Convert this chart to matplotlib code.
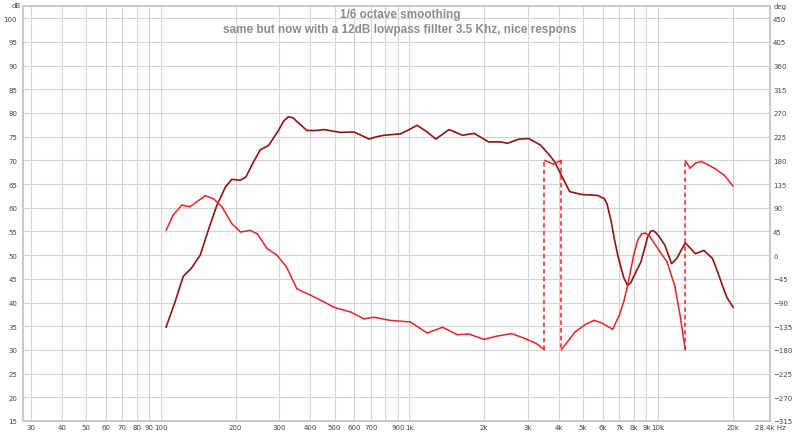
import numpy as np
import matplotlib.pyplot as plt

# Magnitude response (dB)
mag_freq = [105, 114, 123, 133, 144, 156, 168, 182, 193, 209, 220, 235, 251, 272,
            298, 312, 326, 340, 353, 387, 420, 453, 529, 598, 640, 688, 740, 791,
            922, 1000, 1075, 1180, 1278, 1360, 1444, 1540, 1636, 1825, 1950, 2085,
            2335, 2483, 2770, 3030, 3380, 3705, 3845, 4090, 4420, 4940, 5730, 6100,
            6250, 6500, 6680, 6900, 7100, 7300, 7560, 7800, 8000, 8560, 9100, 9350,
            9560, 9800, 10100, 10680, 11360, 11930, 12900, 13500, 14170, 15330,
            16600, 17400, 18200, 19000, 20100]
mag_db = [34.8, 40.1, 45.5, 47.3, 50.0, 55.6, 60.5, 64.4, 66.0, 65.8, 66.5, 69.5,
          72.2, 73.2, 76.4, 78.3, 79.2, 79.0, 78.2, 76.3, 76.3, 76.5, 75.9, 76.0,
          75.3, 74.5, 75.0, 75.3, 75.6, 76.5, 77.4, 76.0, 74.5, 75.5, 76.5, 75.9,
          75.3, 75.7, 74.8, 73.9, 73.9, 73.6, 74.5, 74.6, 73.2, 70.8, 69.7, 66.9,
          63.4, 62.8, 62.6, 61.9, 60.8, 57.0, 53.5, 50.0, 47.5, 45.2, 43.6, 44.2,
          45.5, 48.6, 53.8, 55.0, 55.2, 54.8, 54.0, 52.1, 48.2, 49.3, 52.6, 51.5,
          50.3, 51.0, 49.3, 46.5, 43.6, 41.0, 39.0]

# Phase (deg), wrapped at +/-180
ph_freq = [105, 112, 121.5, 131, 151, 163, 176, 193, 209, 229, 245, 267, 293, 320,
           353, 400, 450, 497, 580, 657, 720, 838, 1010, 1180, 1360, 1560, 1740,
           1995, 2250, 2580, 2940, 3250, 3500, 3500, 3800, 4090, 4090, 4640, 5100,
           5540, 5900, 6580, 7000, 7300, 7560, 8000, 8300, 8600, 8900, 9200, 9990,
           10900, 11700, 12300, 12900, 12900, 13500, 14200, 15000, 16900, 18500,
           20100]
ph_deg = [47, 76, 95, 92, 113, 107, 92, 60, 44, 47, 40, 13, 0, -22, -64, -76, -88,
          -99, -108, -121, -118, -124, -127, -148, -137, -151, -150, -160, -154,
          -149, -159, -168, -180, 180, 173, 180, -180, -146, -132, -124, -128,
          -141, -114, -88, -58, 0, 28, 40, 42, 38, 13, -13, -58, -115, -180, 180,
          165, 175, 178, 165, 152, 131]

xtick_vals = [30, 40, 50, 60, 70, 80, 90, 100, 200, 300, 400, 500, 600, 700, 800,
              900, 1000, 2000, 3000, 4000, 5000, 6000, 7000, 8000, 9000, 10000,
              20000, 28400]
xtick_labels = ["30", "40", "50", "60", "70", "80", "90", "100", "200", "300", "400",
                "500", "600", "700", "", "900", "1k", "2k", "3k", "4k", "5k", "6k",
                "7k", "8k", "9k", "10k", "20k", "28.4k Hz"]

fig = plt.figure(figsize=(8, 4.35), dpi=100)
ax = fig.add_axes([0.0284, 0.030, 0.9346, 0.953])
ax2 = ax.twinx()

ax.set_xscale("log")
ax.set_xlim(27.8, 28400)
ax.set_ylim(15, 102.5)
ax2.set_ylim(-315, 472.5)

ax.set_xticks(xtick_vals)
ax.set_xticklabels(xtick_labels)
ax.xaxis.set_minor_locator(plt.NullLocator())
ax.set_yticks(np.arange(15, 101, 5))
ax2.set_yticks(np.arange(-315, 451, 45))

ax.grid(True, color="#d4d4d4", lw=0.8)
ax.set_axisbelow(True)

for a in (ax, ax2):
    for s in a.spines.values():
        s.set_color("#c8c8c8")
        s.set_linewidth(1.2)
    a.tick_params(labelsize=5, colors="#444444", length=0, pad=2)
ax.tick_params(axis="y", pad=4)

# phase: solid between samples, dashed across the wraps
phase_color = "#e4262a"
for i in range(len(ph_freq) - 1):
    seg_f = ph_freq[i:i + 2]
    seg_d = ph_deg[i:i + 2]
    if abs(seg_d[1] - seg_d[0]) > 180:
        ax2.plot(seg_f, seg_d, color=phase_color, lw=1.1, ls=(0, (3, 2)))
    else:
        ax2.plot(seg_f, seg_d, color=phase_color, lw=1.1, solid_capstyle="round")

ax.plot(mag_freq, mag_db, color="#8e1414", lw=1.2, zorder=5)

fig.text(0.5, 0.965, "1/6 octave smoothing", ha="center", va="center",
         fontsize=8.5, color="#8c8c8c", fontweight="bold", family="Liberation Sans")
fig.text(0.5, 0.932, "same but now with a 12dB lowpass fillter 3.5 Khz, nice respons",
         ha="center", va="center", fontsize=8.5, color="#8c8c8c",
         fontweight="bold", family="Liberation Sans")

fig.text(0.02, 0.992, "dB", ha="center", va="top", fontsize=5, color="#444444")
fig.text(0.975, 0.990, "deg", ha="center", va="top", fontsize=5, color="#444444")

fig.savefig("out.png", dpi=100)
